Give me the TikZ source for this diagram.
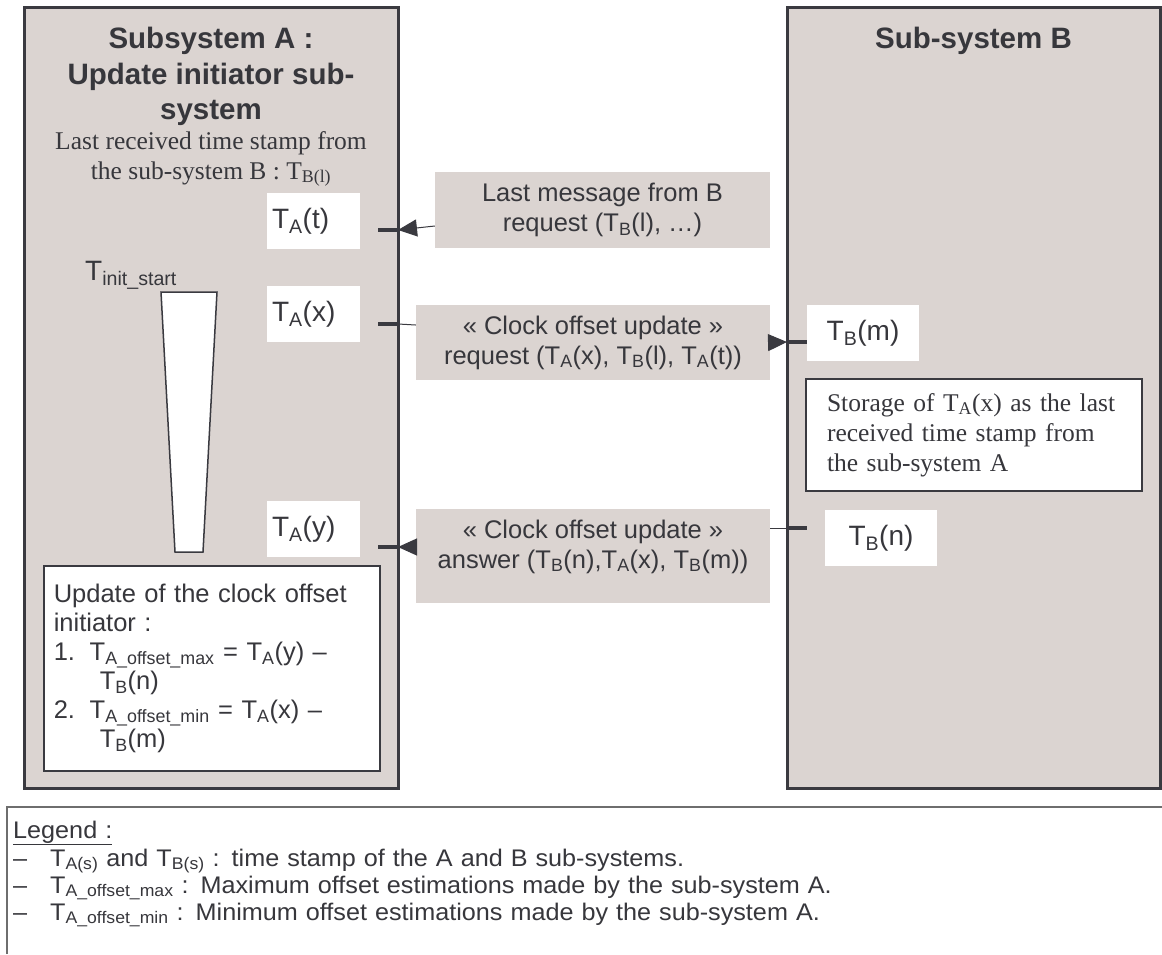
\documentclass[tikz,border=0pt]{standalone}
\usepackage{fontspec}
\setmainfont{Liberation Sans}
\newfontfamily\serifA{Liberation Serif}
\newfontfamily\legendfont[FakeStretch=1.05]{Liberation Sans}
\usetikzlibrary{arrows.meta}
\definecolor{boxgrey}{RGB}{219,212,209}
\definecolor{ink}{RGB}{58,58,64}
\definecolor{txtcol}{RGB}{55,55,60}
\definecolor{legline}{RGB}{110,110,110}
\newcommand{\sbs}[1]{\textsubscript{#1}}
\begin{document}
\begin{tikzpicture}[x=1pt,y=-1pt,
  plain/.style={text=txtcol, inner sep=0pt},
  sysbox/.style={draw=ink, line width=3pt, fill=boxgrey, inner sep=0pt},
  titlefont/.style={plain, font=\fontsize{29.5}{35.5}\selectfont\bfseries, align=center},
  seriftext/.style={plain, font=\serifA\fontsize{25.5}{30}\selectfont},
  stamp/.style={fill=white, text=txtcol, font=\fontsize{28}{32}\selectfont, minimum width=#1, minimum height=56pt, inner sep=0pt},
  msgbox/.style={fill=boxgrey, text=txtcol, font=\fontsize{25.5}{30}\selectfont, align=center, inner sep=0pt},
  thinbox/.style={draw=ink, line width=1.5pt, fill=white},
  msgline/.style={draw=ink, line width=1pt},
  arr/.style={msgline, -{Triangle[length=19pt,width=17pt]}},
  tick/.style={draw=ink, line width=3.5pt},
]
\useasboundingbox (0,0) rectangle (1162,954);
\fill[white] (0,0) rectangle (1162,954);

% sub-system boxes
\node[sysbox, minimum width=374pt, minimum height=781pt] (boxA) at (211,397.5) {};
\node[sysbox, minimum width=373pt, minimum height=781pt] (boxB) at (973.5,397.5) {};

\node[titlefont, anchor=north] (titleA) at (211,27) {Subsystem A :\\Update initiator sub-\\system};
\node[titlefont, anchor=north] (titleB) at (973.5,27) {Sub-system B};
\node[seriftext, align=center, anchor=north] (lastB) at (211,131) {Last received time stamp from\\the sub-system B : T\sbs{B(l)}};

% time stamps
\node[stamp=93pt, text width=83pt, align=left, inner xsep=5pt] (tat) at (313.5,221) {T\sbs{A}(t)};
\node[stamp=93pt, text width=83pt, align=left, inner xsep=5pt] (tax) at (313.5,314) {T\sbs{A}(x)};
\node[stamp=93pt, text width=83pt, align=left, inner xsep=5pt] (tay) at (313.5,529) {T\sbs{A}(y)};
\node[stamp=112pt] (tbm) at (863,333) {T\sbs{B}(m)};
\node[stamp=112pt] (tbn) at (881,538) {T\sbs{B}(n)};

\node[plain, font=\fontsize{28}{32}\selectfont, anchor=base west] (tinit) at (85,280) {T\sbs{init\_start}};
\draw[thinbox] (161,292) -- (217,292) -- (203,552) -- (175,552) -- cycle;

% update box
\node[thinbox, anchor=north west, minimum width=336pt, minimum height=205pt, text width=316pt, inner xsep=10pt, inner ysep=0pt, align=left, text=txtcol, font=\fontsize{25.5}{29}\selectfont] (upd) at (43,565) {Update of the clock offset\\initiator :\\\makebox[36pt][l]{1.}T\sbs{A\_offset\_max} = T\sbs{A}(y) –\\\hspace*{46pt}T\sbs{B}(n)\\\makebox[36pt][l]{2.}T\sbs{A\_offset\_min} = T\sbs{A}(x) –\\\hspace*{46pt}T\sbs{B}(m)};

% storage box
\node[thinbox, minimum width=336pt, minimum height=112pt, text width=294pt, inner xsep=21pt, align=left, text=txtcol, font=\serifA\fontsize{25.5}{30}\selectfont] (stor) at (974,435) {Storage of T\sbs{A}(x) as the last\\received time stamp from\\the sub-system A};

% messages
\node[msgbox, minimum width=335pt, minimum height=76pt] (msg1) at (602.5,210) {Last message from B\\request (T\sbs{B}(l), …)};
\node[msgbox, minimum width=354pt, minimum height=75pt] (msg2) at (593,342.5) {« Clock offset update »\\request (T\sbs{A}(x), T\sbs{B}(l), T\sbs{A}(t))};
\node[msgbox, minimum width=354pt, minimum height=94pt, text depth=24pt] (msg3) at (593,556) {« Clock offset update »\\answer (T\sbs{B}(n),T\sbs{A}(x), T\sbs{B}(m))};

% connection points on the life lines
\coordinate (a1) at (398,230);
\coordinate (a2) at (398,324);
\coordinate (a3) at (398,547);
\coordinate (a1t) at (378,230);
\coordinate (a2t) at (378,324);
\coordinate (a3t) at (378,547);
\coordinate (b1) at (787,342);
\coordinate (b2) at (788,528);
\coordinate (b1t) at (807,342);
\coordinate (b2t) at (807,528);

\draw[arr] ([yshift=-16pt]msg1.west) -- (a1);
\draw[msgline] ([yshift=17.5pt]msg2.west) -- (a2);
\draw[arr] (msg2.east) -- (b1);
\draw[arr] ([yshift=9pt]msg3.west) -- (a3);
\draw[msgline] ([yshift=28pt]msg3.east) -- (b2);

\draw[tick] (a1t) -- (a1);
\draw[tick] (a2t) -- (a2);
\draw[tick] (a3t) -- (a3);
\draw[tick] (b1) -- (b1t);
\draw[tick] (b2) -- (b2t);

% legend
\draw[draw=legline, line width=1.5pt] (7,954) -- (7,807) -- (1162,807);
\node[plain, anchor=north west, text width=1140pt, align=left, font=\legendfont\fontsize{24}{27}\selectfont] (legend) at (13,820.5) {\lineskiplimit=-50pt\relax\underline{Legend :}\\[1pt]\makebox[37pt][l]{–}T\sbs{A(s)} and T\sbs{B(s)} : time stamp of the A and B sub-systems.\\\makebox[37pt][l]{–}T\sbs{A\_offset\_max} : Maximum offset estimations made by the sub-system A.\\\makebox[37pt][l]{–}T\sbs{A\_offset\_min} : Minimum offset estimations made by the sub-system A.};
\end{tikzpicture}
\end{document}
